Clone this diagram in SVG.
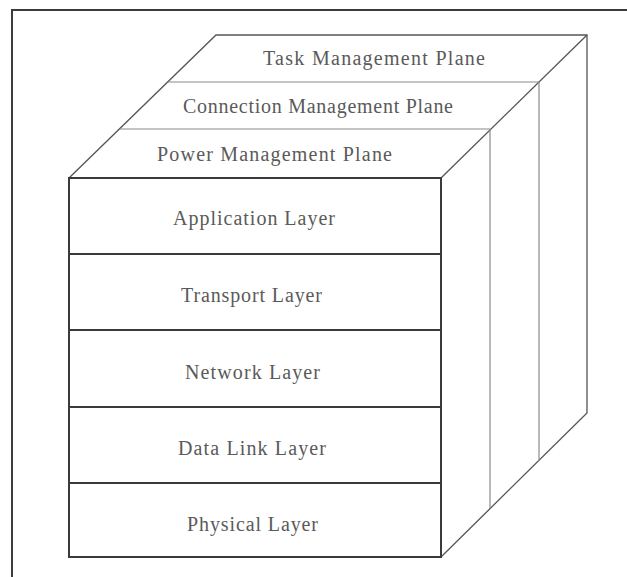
<svg xmlns="http://www.w3.org/2000/svg" width="627" height="577" viewBox="0 0 627 577">
  <style>
    .frame { fill: none; stroke: #3c3c3c; stroke-width: 2; }
    .front { fill: #ffffff; stroke: #3a3a3a; stroke-width: 2; }
    .divider { stroke: #3a3a3a; stroke-width: 2; }
    .edge { fill: none; stroke: #555555; stroke-width: 1.3; }
    .plane { stroke: #8a8a8a; stroke-width: 1.2; }
    .label { font-family: "Liberation Serif", "Times New Roman", serif; font-size: 20px; fill: #5a5a5a; text-anchor: start; }
  </style>

  <rect x="0" y="0" width="627" height="577" fill="#ffffff"/>

  <!-- outer frame (continues past the right and bottom edges) -->
  <rect class="frame" x="12" y="10" width="680" height="620"/>

  <!-- top and side faces of the stack -->
  <g id="cube-faces">
    <path class="edge" d="M69,178 L216,35 L587,35 L587,413 L441,557"/>
    <path class="edge" d="M441,178 L587,35"/>
  </g>

  <!-- management planes -->
  <g id="task-plane">
    <text class="label" x="263" y="65" textLength="222" lengthAdjust="spacing">Task Management Plane</text>
  </g>
  <g id="connection-plane">
    <line class="plane" x1="168" y1="82" x2="539" y2="82"/>
    <line class="plane" x1="539" y1="82" x2="539" y2="461"/>
    <text class="label" x="183" y="113" textLength="270" lengthAdjust="spacing">Connection Management Plane</text>
  </g>
  <g id="power-plane">
    <line class="plane" x1="120" y1="129" x2="490" y2="129"/>
    <line class="plane" x1="490" y1="129" x2="490" y2="508"/>
    <text class="label" x="157" y="161" textLength="235" lengthAdjust="spacing">Power Management Plane</text>
  </g>

  <!-- protocol layers (front face) -->
  <g id="layer-stack">
    <rect class="front" x="69" y="178" width="372" height="379"/>
  </g>
  <g id="application-layer">
    <text class="label" x="173" y="225" textLength="162" lengthAdjust="spacing">Application Layer</text>
  </g>
  <g id="transport-layer">
    <line class="divider" x1="69" y1="254" x2="441" y2="254"/>
    <text class="label" x="181" y="302" textLength="141" lengthAdjust="spacing">Transport Layer</text>
  </g>
  <g id="network-layer">
    <line class="divider" x1="69" y1="330" x2="441" y2="330"/>
    <text class="label" x="185" y="379" textLength="135" lengthAdjust="spacing">Network Layer</text>
  </g>
  <g id="data-link-layer">
    <line class="divider" x1="69" y1="407" x2="441" y2="407"/>
    <text class="label" x="178" y="455" textLength="148" lengthAdjust="spacing">Data Link Layer</text>
  </g>
  <g id="physical-layer">
    <line class="divider" x1="69" y1="483" x2="441" y2="483"/>
    <text class="label" x="187" y="531" textLength="131" lengthAdjust="spacing">Physical Layer</text>
  </g>

  <g id="connectors"/>
</svg>
